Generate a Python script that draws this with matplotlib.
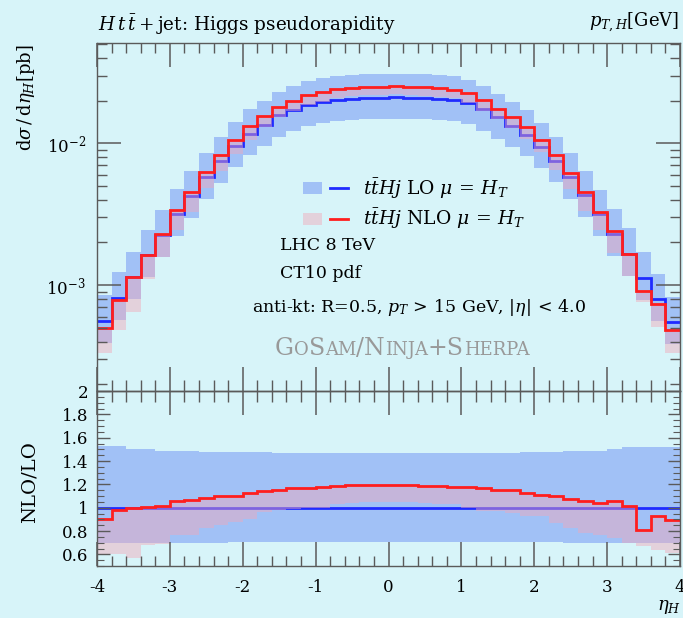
import numpy as np
import matplotlib
matplotlib.use("Agg")
import matplotlib.pyplot as plt
import matplotlib.transforms as mtransforms
from matplotlib.patches import Patch
from matplotlib.lines import Line2D
from matplotlib.legend_handler import HandlerTuple
from matplotlib.ticker import MultipleLocator, FixedLocator, LogLocator, NullFormatter

# ----------------------------------------------------------------------------
# data: 40 bins of width 0.2 in eta_H
# ----------------------------------------------------------------------------
edges = np.round(np.linspace(-4.0, 4.0, 41), 1)

lo = np.array([5.55e-4, 8.05e-4, 1.14e-3, 1.62e-3, 2.27e-3, 3.18e-3, 4.25e-3, 5.80e-3, 7.46e-3, 9.52e-3,
               1.17e-2, 1.35e-2, 1.57e-2, 1.71e-2, 1.87e-2, 1.95e-2, 2.02e-2, 2.06e-2, 2.09e-2, 2.09e-2,
               2.10e-2, 2.09e-2, 2.08e-2, 2.06e-2, 2.01e-2, 1.91e-2, 1.73e-2, 1.52e-2, 1.33e-2, 1.15e-2,
               9.44e-3, 7.50e-3, 5.75e-3, 4.30e-3, 3.15e-3, 2.28e-3, 1.65e-3, 1.13e-3, 7.93e-4, 5.46e-4])

nlo = np.array([5.02e-4, 7.91e-4, 1.133e-3, 1.630e-3, 2.309e-3, 3.371e-3, 4.543e-3, 6.281e-3, 8.228e-3, 1.050e-2,
                1.317e-2, 1.546e-2, 1.806e-2, 1.992e-2, 2.184e-2, 2.297e-2, 2.394e-2, 2.456e-2, 2.495e-2, 2.504e-2,
                2.516e-2, 2.498e-2, 2.475e-2, 2.447e-2, 2.372e-2, 2.244e-2, 2.021e-2, 1.756e-2, 1.527e-2, 1.295e-2,
                1.050e-2, 8.228e-3, 6.181e-3, 4.537e-3, 3.276e-3, 2.405e-3, 1.668e-3, 9.10e-4, 7.37e-4, 4.86e-4])

# scale-variation envelopes, relative to LO central
lo_up_rel = np.array([1.53, 1.53, 1.50, 1.50, 1.49, 1.49, 1.49, 1.48, 1.48, 1.48,
                      1.48, 1.48, 1.47, 1.47, 1.47, 1.47, 1.47, 1.47, 1.47, 1.47,
                      1.47, 1.47, 1.47, 1.47, 1.47, 1.47, 1.47, 1.47, 1.47, 1.48,
                      1.48, 1.48, 1.49, 1.49, 1.49, 1.50, 1.52, 1.52, 1.52, 1.52])
lo_dn_rel = np.array([0.70, 0.70, 0.70, 0.70, 0.70, 0.70, 0.70, 0.70, 0.70, 0.71,
                      0.71, 0.71, 0.71, 0.71, 0.71, 0.71, 0.71, 0.71, 0.71, 0.71,
                      0.71, 0.71, 0.71, 0.71, 0.71, 0.71, 0.71, 0.71, 0.71, 0.71,
                      0.71, 0.71, 0.70, 0.70, 0.70, 0.70, 0.70, 0.70, 0.70, 0.70])
nlo_dn_rel = np.array([0.60, 0.60, 0.57, 0.68, 0.69, 0.77, 0.77, 0.83, 0.85, 0.88,
                       0.90, 0.96, 0.98, 0.99, 1.00, 1.00, 1.03, 1.04, 1.05, 1.05,
                       1.05, 1.05, 1.04, 1.03, 1.03, 1.00, 0.97, 0.97, 0.955, 0.925,
                       0.925, 0.87, 0.825, 0.78, 0.77, 0.74, 0.70, 0.67, 0.64, 0.61])

# ----------------------------------------------------------------------------
# style
# ----------------------------------------------------------------------------
plt.rcParams['font.family'] = ['DejaVu Serif']
plt.rcParams['mathtext.fontset'] = 'dejavuserif'
plt.rcParams['axes.unicode_minus'] = False

BG = '#d7f4f9'
AXC = '#5a5a5a'
BLUE_BAND = '#6d8ff5'
PINK_BAND = '#f3a8b8'
BLUE = '#1f2bff'
RED = '#ff1e1e'

W, H = 683, 618
fig = plt.figure(figsize=(W / 100, H / 100), dpi=100, facecolor=BG)


def fax(left, top, right, bottom):
    return [left / W, 1 - bottom / H, (right - left) / W, (bottom - top) / H]


ax = fig.add_axes(fax(97, 42.7, 680, 391))
rax = fig.add_axes(fax(97, 391, 680, 566))
for a in (ax, rax):
    a.set_facecolor('none')
    for s in a.spines.values():
        s.set_color(AXC)
        s.set_linewidth(1.0)

# ---------------- top panel ----------------
ax.stairs(lo * lo_up_rel, edges, baseline=lo * lo_dn_rel, fill=True,
          color=BLUE_BAND, alpha=0.5, lw=0)
ax.stairs(lo, edges, baseline=None, color=BLUE, lw=2)
ax.stairs(nlo, edges, baseline=lo * nlo_dn_rel, fill=True,
          color=PINK_BAND, alpha=0.45, lw=0)
ax.stairs(nlo, edges, baseline=None, color=RED, lw=2)

ax.set_yscale('log')
ax.set_xlim(-4, 4)
ax.set_ylim(1.793e-4, 5.11e-2)
ax.yaxis.set_major_locator(LogLocator(base=10, numticks=10))
ax.yaxis.set_minor_locator(LogLocator(base=10, subs=np.arange(2, 10), numticks=20))
ax.yaxis.set_minor_formatter(NullFormatter())
ax.xaxis.set_major_locator(MultipleLocator(1))
ax.xaxis.set_minor_locator(MultipleLocator(0.2))
ax.tick_params(axis='both', which='both', direction='in', colors=AXC, labelcolor='black',
               top=True, bottom=False, left=True, right=True,
               labelbottom=False, labeltop=False, labelsize=12)
ax.tick_params(which='major', length=17, width=1.1)
ax.tick_params(which='minor', length=7, width=1.0)
ax.tick_params(axis='y', which='major', pad=8)

leg_handles = [(Patch(facecolor=BLUE_BAND, alpha=0.5, lw=0), Line2D([], [], color=BLUE, lw=2)),
               (Patch(facecolor=PINK_BAND, alpha=0.45, lw=0), Line2D([], [], color=RED, lw=2))]
leg_labels = [r'$t\bar{t}Hj$ LO $\mu\,=\,H_T$', r'$t\bar{t}Hj$ NLO $\mu\,=\,H_T$']
ax.legend(leg_handles, leg_labels, handler_map={tuple: HandlerTuple(ndivide=None)},
          frameon=False, loc='upper left', bbox_to_anchor=(0.325, 0.665), fontsize=13.5,
          handlelength=2.4, handleheight=0.6, labelspacing=0.35, handletextpad=0.8)

ax.text(0.314, 0.405, 'LHC 8 TeV', transform=ax.transAxes, fontsize=12.5, va='baseline')
ax.text(0.314, 0.324, 'CT10 pdf', transform=ax.transAxes, fontsize=12.5, va='baseline')
ax.text(0.266, 0.228, r'anti-kt: R=0.5, $p_T\,>\,15$ GeV, $|\eta|\,<\,4.0$',
        transform=ax.transAxes, fontsize=12.5, va='baseline')

# small-caps program credit
renderer = fig.canvas.get_renderer()
sc_parts = [('G', True), ('O', False), ('S', True), ('AM', False), ('/N', True),
            ('INJA', False), ('+S', True), ('HERPA', False)]
dx = 0.0
for piece, big in sc_parts:
    tr = mtransforms.offset_copy(ax.transAxes, fig=fig, x=dx, y=0, units='dots')
    t = ax.text(0.305, 0.103, piece, transform=tr, fontsize=17 if big else 13,
                color='#999999', va='baseline', ha='left')
    dx += t.get_window_extent(renderer).width

# ---------------- ratio panel ----------------
ones = lo / lo
rax.stairs(lo_up_rel, edges, baseline=lo_dn_rel, fill=True, color=BLUE_BAND, alpha=0.5, lw=0)
rax.stairs(ones, edges, baseline=None, color=BLUE, lw=2)
rax.stairs(nlo / lo, edges, baseline=nlo_dn_rel, fill=True, color=PINK_BAND, alpha=0.45, lw=0)
rax.stairs(nlo / lo, edges, baseline=None, color=RED, lw=2)

rax.set_xlim(-4, 4)
rax.set_ylim(0.5, 2.0)
rax.yaxis.set_major_locator(FixedLocator([0.6, 0.8, 1.0, 1.2, 1.4, 1.6, 1.8, 2.0]))
rax.set_yticklabels(['0.6', '0.8', '1', '1.2', '1.4', '1.6', '1.8', '2'])
rax.yaxis.set_minor_locator(MultipleLocator(0.05))
rax.xaxis.set_major_locator(MultipleLocator(1))
rax.xaxis.set_minor_locator(MultipleLocator(0.2))
rax.tick_params(axis='both', which='both', direction='in', colors=AXC, labelcolor='black',
                top=False, bottom=True, left=True, right=True, labelsize=12)
rax.tick_params(axis='x', which='major', length=17, width=1.1, pad=9)
rax.tick_params(axis='x', which='minor', length=7, width=1.0)
rax.tick_params(axis='y', which='major', length=9, width=1.0, pad=6)
rax.tick_params(axis='y', which='minor', length=5, width=0.8)

sec = rax.secondary_xaxis('top')
sec.xaxis.set_major_locator(MultipleLocator(1))
sec.xaxis.set_minor_locator(MultipleLocator(0.2))
sec.tick_params(axis='x', which='both', direction='inout', colors=AXC, labeltop=False)
sec.tick_params(which='major', length=34, width=1.1)
sec.tick_params(which='minor', length=16, width=1.0)
sec.spines['top'].set_color(AXC)

# ---------------- labels ----------------
fig.text(98 / W, 1 - 25 / H, r'$H\,t\,\bar{t}+$jet: Higgs pseudorapidity',
         ha='left', va='center', fontsize=13.2)
fig.text(589 / W, 1 - 22 / H, r'$p_{T,H}$[GeV]', ha='left', va='center', fontsize=13)
fig.text(26 / W, 1 - 98 / H, r'$\mathrm{d}\sigma\,/\,\mathrm{d}\eta_H$[pb]',
         rotation=90, ha='center', va='center', fontsize=13)
fig.text(30 / W, 1 - 482 / H, 'NLO/LO', rotation=90, ha='center', va='center', fontsize=14)
fig.text(681 / W, 1 - 607 / H, r'$\eta_H$', ha='right', va='center', fontsize=13)

fig.savefig('out.png', dpi=100, facecolor=BG)
